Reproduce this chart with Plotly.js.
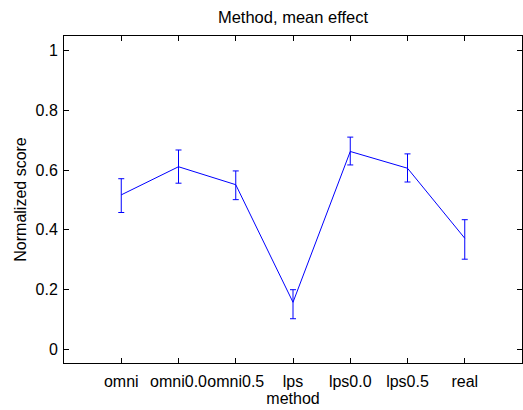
<!DOCTYPE html>
<html>
<head>
<meta charset="utf-8">
<script src="https://cdn.plot.ly/plotly-3.0.1.min.js"></script>
<style>html,body{margin:0;padding:0;background:#fff;}#chart{width:523px;height:410px;}</style>
</head>
<body>
<div id="chart"></div>
<script>
const categories = ["omni", "omni0.0", "omni0.5", "lps", "lps0.0", "lps0.5", "real"];
const meanScore = [0.517, 0.611, 0.551, 0.158, 0.662, 0.606, 0.372];
const upperBound = [0.571, 0.667, 0.597, 0.200, 0.710, 0.654, 0.434];
const lowerBound = [0.458, 0.556, 0.501, 0.103, 0.617, 0.560, 0.302];
const yTicks = [0, 0.2, 0.4, 0.6, 0.8, 1];

const xPos = categories.map((_, i) => i + 1);
const errPlus = meanScore.map((v, i) => upperBound[i] - v);
const errMinus = meanScore.map((v, i) => v - lowerBound[i]);

const trace = {
  x: xPos, y: meanScore, type: 'scatter', mode: 'lines',
  line: {color: 'rgb(0,0,255)', width: 1},
  error_y: {type: 'data', symmetric: false, array: errPlus, arrayminus: errMinus,
            color: 'rgb(0,0,255)', thickness: 1, width: 3},
  hoverinfo: 'none'
};

const fam = 'Liberation Sans, Arial, sans-serif';
const font = {family: fam, size: 16, color: '#000'};
const layout = {
  width: 523, height: 410,
  margin: {l: 64, r: 1, t: 36, b: 47},
  paper_bgcolor: '#fff', plot_bgcolor: '#fff',
  showlegend: false,
  font: font,
  title: {text: 'Method, mean effect', font: {family: fam, size: 16.5, color: '#000'},
          xref: 'paper', x: 0.5, xanchor: 'center', yref: 'container', y: 0.958, yanchor: 'middle'},
  xaxis: {
    range: [0, 8], tickmode: 'array', tickvals: xPos, ticktext: categories, tickangle: 0,
    ticks: 'inside', ticklen: 5, tickcolor: '#000', tickwidth: 1,
    showline: true, linecolor: '#000', linewidth: 1, mirror: 'ticks',
    showgrid: false, zeroline: false, ticklabelstandoff: 4,
    title: {text: 'method', font: font, standoff: 0}
  },
  yaxis: {
    range: [-0.045, 1.048], tickmode: 'array', tickvals: yTicks, ticktext: yTicks.map(String),
    ticks: 'inside', ticklen: 5, tickcolor: '#000', tickwidth: 1,
    showline: true, linecolor: '#000', linewidth: 1, mirror: 'ticks',
    showgrid: false, zeroline: false, ticklabelstandoff: 2,
    title: {text: 'Normalized score', font: font, standoff: 4}
  }
};
Plotly.newPlot('chart', [trace], layout, {displayModeBar: false, staticPlot: true});
</script>
</body>
</html>
